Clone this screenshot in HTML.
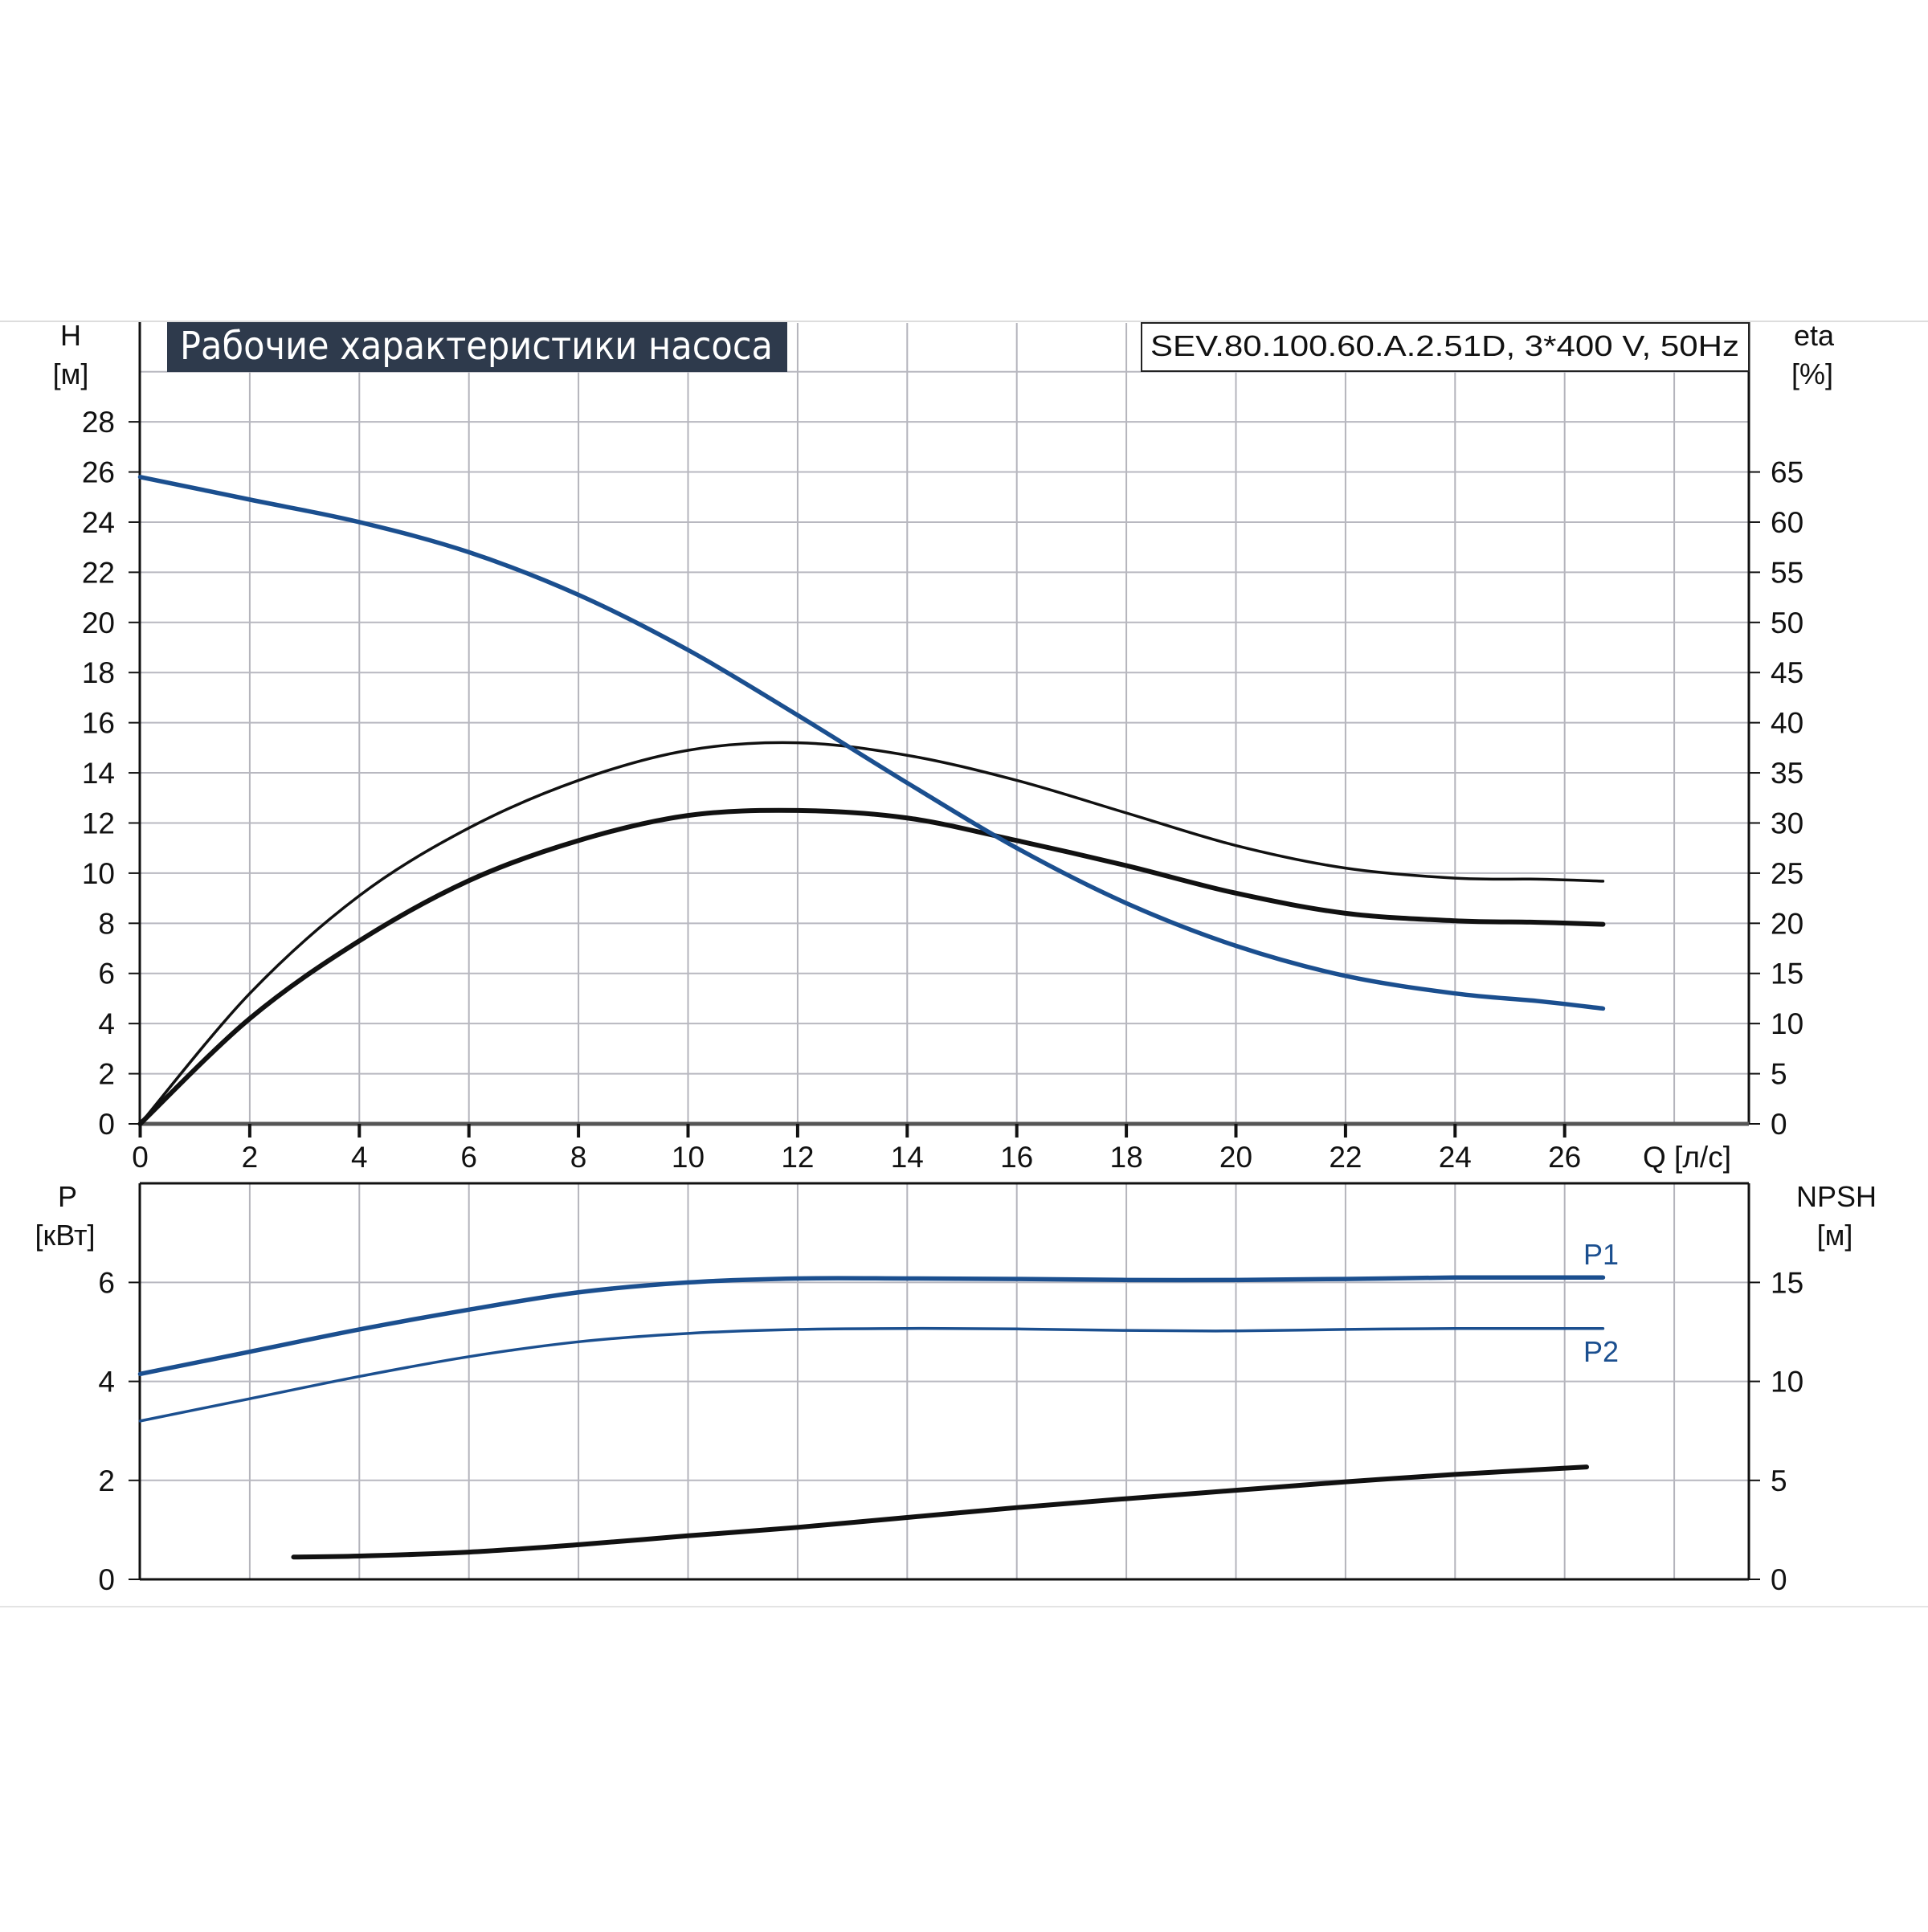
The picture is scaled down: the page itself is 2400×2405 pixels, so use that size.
<!DOCTYPE html>
<html><head><meta charset="utf-8"><style>
html,body{margin:0;padding:0;background:#fff;}
svg text{font-family:"Liberation Sans","DejaVu Sans",sans-serif;}
</style></head><body>
<svg id="chart" width="2400" height="2400" viewBox="0 0 2400 2400" xmlns="http://www.w3.org/2000/svg">
<rect width="2400" height="2400" fill="#fff"/>
<line x1="0" y1="400" x2="2400" y2="400" stroke="#ddd" stroke-width="2"/>
<line x1="0" y1="2000" x2="2400" y2="2000" stroke="#e4e4e4" stroke-width="2"/>
<g id="grid"></g>
<g id="curves"></g>
<g id="labels"></g>
<rect x="208" y="401" width="772" height="62" fill="#2e3a4c"/>
<text x="224" y="447" font-size="48" fill="#fff" textLength="738" lengthAdjust="spacingAndGlyphs" style="font-family:'DejaVu Sans Condensed','DejaVu Sans',sans-serif">Рабочие характеристики насоса</text>
<rect x="1421" y="402" width="756" height="60" fill="#fff" stroke="#222" stroke-width="2"/>
<text x="1432" y="443" font-size="36" fill="#111" textLength="733" lengthAdjust="spacingAndGlyphs">SEV.80.100.60.A.2.51D, 3*400 V, 50Hz</text>
</svg>
<script>
const qPts=[0,2,4,6,8,10,12,14,16,18,20,22,24,25.5,26.7];
const headH=[25.8,24.9,24.0,22.8,21.1,18.9,16.3,13.6,11.0,8.8,7.1,5.9,5.2,4.9,4.6];
const etaPump=[0,13,22.75,29.5,34.25,37.25,38,36.75,34.25,31,27.75,25.5,24.5,24.4,24.2];
const etaTotal=[0,10.5,18.25,24.25,28.25,30.75,31.25,30.5,28.25,25.75,23,21,20.25,20.1,19.9];
const powerP1=[4.15,4.6,5.05,5.45,5.8,6.0,6.08,6.08,6.07,6.05,6.05,6.07,6.1,6.1,6.1];
const powerP2=[3.2,3.65,4.1,4.5,4.8,4.97,5.05,5.07,5.06,5.03,5.02,5.05,5.07,5.07,5.07];
const npshQ=[2.8,4,6,8,10,12,14,16,18,20,22,24,26.4];
const npshM=[1.125,1.175,1.375,1.75,2.2,2.625,3.125,3.625,4.075,4.5,4.925,5.3,5.675];
const xTicks=[0,2,4,6,8,10,12,14,16,18,20,22,24,26];
const hTicks=[0,2,4,6,8,10,12,14,16,18,20,22,24,26,28];
const etaTicks=[0,5,10,15,20,25,30,35,40,45,50,55,60,65];
const pTicks=[0,2,4,6];
const npshTicks=[0,5,10,15];

const NS="http://www.w3.org/2000/svg";
const X0=174.5,XU=68.2,L=174,R=2177;
const xs=q=>X0+XU*q;
const yH=h=>1399-31.21*h;
const yEta=e=>yH(e/2.5);
const yP=p=>1966-61.6*p;
const yN=n=>yP(n/2.5);
function mk(tag,attrs,parent){const e=document.createElementNS(NS,tag);for(const k in attrs)e.setAttribute(k,attrs[k]);parent.appendChild(e);return e;}
const grid=document.getElementById('grid'),curves=document.getElementById('curves'),labels=document.getElementById('labels');
for(let q=2;q<=28;q+=2){
 const g1=mk('line',{x1:xs(q),y1:402,x2:xs(q),y2:1399,stroke:'#b4b4bc','stroke-width':2},grid);
 
 
 const g2=mk('line',{x1:xs(q),y1:1473,x2:xs(q),y2:1966,stroke:'#b4b4bc','stroke-width':2},grid);
 
 
}
for(let h=2;h<=30;h+=2){
 const g=mk('line',{x1:L,y1:yH(h),x2:R,y2:yH(h),stroke:'#b8b8c0','stroke-width':2},grid);
 
 
}
for(let p=2;p<=6;p+=2){
 const g=mk('line',{x1:L,y1:yP(p),x2:R,y2:yP(p),stroke:'#b8b8c0','stroke-width':2},grid);
 
 
}
const axes=[[L,401,L,1400,'y-axis-left-top'],[R,401,R,1400,'y-axis-right-top'],[L,1399,R,1399,'x-axis-top'],[L,1473,R,1473,'frame-top-bottom'],[L,1473,L,1967,'y-axis-left-bottom'],[R,1473,R,1967,'y-axis-right-bottom'],[L,1966,R,1966,'x-axis-bottom']];
axes.forEach(a=>{const e=mk('line',{x1:a[0],y1:a[1],x2:a[2],y2:a[3],stroke:a[4]=='x-axis-top'?'#555':'#111','stroke-width':a[4]=='x-axis-top'?5:3},grid);
 
 });
function txt(x,y,s,anchor,size,fill,name){const t=mk('text',{x:x,y:y,'font-size':size,'text-anchor':anchor,fill:fill||'#111'},labels);t.textContent=s;
 
 return t;}
xTicks.forEach(q=>{mk('line',{x1:xs(q),y1:1399,x2:xs(q),y2:1416,stroke:'#111','stroke-width':4},grid);
 txt(xs(q),1453,String(q),'middle',37,'#111','x-tick-label');});
hTicks.forEach(h=>{mk('line',{x1:L-14,y1:yH(h),x2:L,y2:yH(h),stroke:'#111','stroke-width':2},grid);
 txt(143,yH(h)+13,String(h),'end',37,'#111','h-tick-label');});
etaTicks.forEach(e=>{mk('line',{x1:R,y1:yEta(e),x2:R+14,y2:yEta(e),stroke:'#111','stroke-width':2},grid);
 txt(2204,yEta(e)+13,String(e),'start',37,'#111','eta-tick-label');});
pTicks.forEach(p=>{mk('line',{x1:L-14,y1:yP(p),x2:L,y2:yP(p),stroke:'#111','stroke-width':2},grid);
 txt(143,yP(p)+13,String(p),'end',37,'#111','p-tick-label');});
npshTicks.forEach(n=>{mk('line',{x1:R,y1:yN(n),x2:R+14,y2:yN(n),stroke:'#111','stroke-width':2},grid);
 txt(2204,yN(n)+13,String(n),'start',37,'#111','npsh-tick-label');});
txt(88,430,'H','middle',36,'#111','h-axis-title');
txt(88,478,'[м]','middle',36,'#111','h-axis-unit');
txt(2258,430,'eta','middle',36,'#111','eta-axis-title');
txt(2256,478,'[%]','middle',36,'#111','eta-axis-unit');
txt(84,1502,'P','middle',36,'#111','p-axis-title');
txt(81,1550,'[кВт]','middle',36,'#111','p-axis-unit');
txt(2286,1502,'NPSH','middle',36,'#111','npsh-axis-title');
txt(2284,1550,'[м]','middle',36,'#111','npsh-axis-unit');
txt(2100,1453,'Q [л/с]','middle',37,'#111','x-axis-title');
txt(1993,1574,'P1','middle',36,'#1b4f8f','p1-label');
txt(1993,1695,'P2','middle',36,'#1b4f8f','p2-label');
function path(xa,ya,fy,color,w,name){
 const P=xa.map((q,i)=>[xs(q),fy(ya[i])]);
 let d='M'+P[0][0]+','+P[0][1];
 for(let i=0;i<P.length-1;i++){
  const p0=P[Math.max(0,i-1)],p1=P[i],p2=P[i+1],p3=P[Math.min(P.length-1,i+2)];
  const c1=[p1[0]+(p2[0]-p0[0])/6,p1[1]+(p2[1]-p0[1])/6];
  const c2=[p2[0]-(p3[0]-p1[0])/6,p2[1]-(p3[1]-p1[1])/6];
  d+=' C'+c1[0]+','+c1[1]+' '+c2[0]+','+c2[1]+' '+p2[0]+','+p2[1];
 }
 const e=mk('path',{d:d,fill:'none',stroke:color,'stroke-width':w,'stroke-linecap':'round'},curves);
 
 
}
path(qPts,etaPump,yEta,'#111',3.5,'efficiency-pump-curve');
path(qPts,etaTotal,yEta,'#111',6,'efficiency-total-curve');
path(qPts,headH,yH,'#1b4f8f',5.5,'head-curve');
path(qPts,powerP1,yP,'#1b4f8f',5.5,'power-p1-curve');
path(qPts,powerP2,yP,'#1b4f8f',3.5,'power-p2-curve');
path(npshQ,npshM,yN,'#111',6,'npsh-curve');
</script>
</body></html>
